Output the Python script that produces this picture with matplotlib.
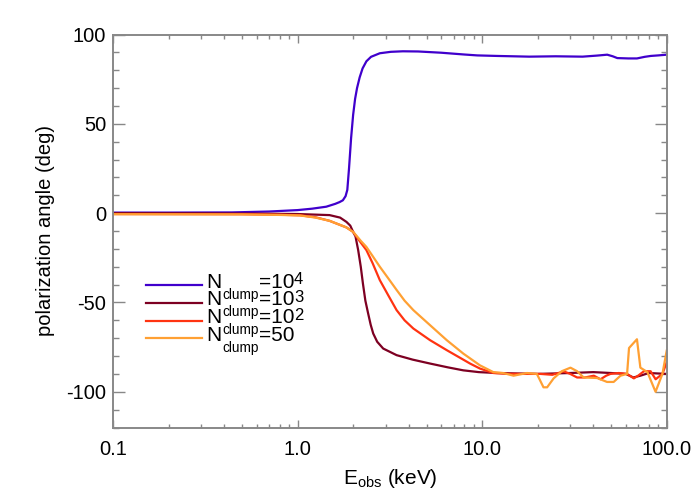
import matplotlib
matplotlib.use("Agg")
import matplotlib.pyplot as plt
from matplotlib.ticker import FixedLocator, LogLocator, NullFormatter, MultipleLocator
from matplotlib.font_manager import FontProperties

plt.rcParams['font.family'] = ['Liberation Sans', 'DejaVu Sans']
plt.rcParams['mathtext.fontset'] = 'custom'
plt.rcParams['mathtext.rm'] = 'Liberation Sans'
plt.rcParams['mathtext.it'] = 'Liberation Sans'
plt.rcParams['axes.unicode_minus'] = False

# ---- data ----
E_n4 = [0.1, 0.2, 0.44, 0.7, 1.0, 1.2, 1.43, 1.6, 1.69, 1.76, 1.82, 1.86, 1.9, 1.95,
        2.0, 2.05, 2.1, 2.17, 2.25, 2.36, 2.5, 2.79, 3.2, 3.72, 4.5, 6, 8, 9.4, 12, 18,
        25, 35, 42, 47.6, 51, 54, 62, 69, 76, 82, 90, 100]
A_n4 = [0.3, 0.3, 0.4, 0.9, 1.7, 2.5, 3.6, 5.2, 6.2, 7.2, 9.5, 13, 25, 42,
        55, 64, 70, 76, 81, 85, 87.5, 89.5, 90.3, 90.6, 90.5, 89.8, 88.8, 88.3, 88, 87.6,
        87.8, 87.6, 88.2, 88.7, 87.8, 86.8, 86.6, 86.6, 87.5, 88, 88.3, 88.7]

E_n3 = [0.1, 0.3, 0.6, 1.0, 1.49, 1.7, 1.84, 1.93, 2.0, 2.06, 2.13, 2.2, 2.26, 2.33,
        2.41, 2.49, 2.57, 2.7, 2.91, 3.44, 4.2, 5.22, 6.5, 7.9, 9.6, 12, 20, 30, 40, 50,
        60, 66, 72, 80, 100]
A_n3 = [0.0, -0.1, -0.3, -0.5, -1.1, -2.5, -4.9, -7, -10.5, -13, -20.7, -30, -39.4, -49,
        -56, -62.5, -67.4, -72, -75.8, -79.5, -82, -84.2, -86.3, -88, -89, -89.5, -90, -89.5, -89, -89.5,
        -90, -92, -91, -89.5, -90]

E_n2 = [0.1, 0.5, 0.8, 1.03, 1.25, 1.49, 1.84, 2.0, 2.08, 2.2, 2.36, 2.55, 2.79, 3.1,
        3.44, 3.8, 4.24, 5.22, 6.43, 7.9, 8.6, 9.73, 11.5, 14, 17, 20.7, 24, 27.7, 30, 32.7,
        36, 40.3, 43.8, 47, 49.6, 55, 61, 66.4, 70, 75.3, 81.8, 87.1, 94.8, 100]
A_n2 = [-0.5, -0.6, -0.9, -1.2, -2.3, -4.3, -8, -10.5, -13, -16.5, -20.7, -28, -37.5, -46,
        -54.3, -60, -64.6, -71.1, -76.7, -82, -84.2, -87, -89.5, -90, -90, -90, -90.5, -88.6, -90, -92,
        -92, -91, -93, -91, -90, -89.5, -90, -92.5, -91, -88.5, -88.5, -93, -90, -83.5]

E_n50 = [0.1, 0.5, 0.8, 1.03, 1.25, 1.49, 1.84, 2.0, 2.08, 2.2, 2.36, 2.55, 2.79, 3.1,
         3.44, 3.8, 4.24, 5.22, 6.43, 7.9, 9.73, 11.5, 13, 14.8, 17.5, 19.8, 21.5, 22.5, 24.4, 27,
         30.1, 32.7, 35.5, 42, 47.5, 51.6, 56.2, 61, 62.5, 69, 72, 78.6, 87, 94.8, 100]
A_n50 = [-0.6, -0.7, -1, -1.3, -2.5, -4.3, -8, -10.5, -12.5, -15.5, -18.9, -24, -30, -36.5,
         -43, -49, -54.3, -62.7, -71.1, -78.6, -85.2, -89, -89.5, -91, -89.5, -90, -97.5, -97.5, -92.5, -88.5,
         -86.5, -88.5, -92, -92.3, -94.5, -94.5, -91, -90, -75.5, -70.6, -86.5, -89, -100, -90, -77]

colors = ['#4000cc', '#7d0022', '#ff3311', '#ffa033']
label_values = ['10', '10', '10', '50']
label_exps = ['4', '3', '2', '']
xticks = [0.1, 1.0, 10.0, 100.0]
xticklabels = ['0.1', '1.0', '10.0', '100.0']
yticks = [-100, -50, 0, 50, 100]

series = list(zip([E_n4, E_n3, E_n2, E_n50], [A_n4, A_n3, A_n2, A_n50], colors))

fig = plt.figure(figsize=(7, 5), dpi=100)
ax = fig.add_axes([113/700, 1-427.5/500, (666.7-113)/700, (427.5-34.5)/500])

for E, A, c in series:
    ax.plot(E, A, color=c, lw=1.6, solid_joinstyle='round')

ax.set_xscale('log')
ax.set_xlim(0.1, 100)
ax.set_ylim(-120, 100)
ax.xaxis.set_major_locator(FixedLocator(xticks))
ax.set_xticklabels(xticklabels)
ax.xaxis.set_minor_locator(LogLocator(base=10, subs=range(2, 10)))
ax.xaxis.set_minor_formatter(NullFormatter())
ax.yaxis.set_major_locator(FixedLocator(yticks))
ax.yaxis.set_minor_locator(MultipleLocator(10))

gray = '#888888'
for s in ax.spines.values():
    s.set_color(gray)
    s.set_linewidth(1.4)
ax.tick_params(axis='both', which='both', direction='in', top=True, right=True,
               color=gray, width=1.0, labelsize=14.5, labelcolor='black')
ax.tick_params(axis='x', which='major', length=6, pad=9)
ax.tick_params(axis='x', which='minor', length=3.2)
ax.tick_params(axis='y', which='major', length=8.6, pad=5)
ax.tick_params(axis='y', which='minor', length=4.3)

ax.set_ylabel('polarization angle (deg)', fontsize=14.5, labelpad=8)
ax.set_xlabel(r'E$_{\mathregular{obs}}$ (keV)', fontsize=15, labelpad=6)

# ---- legend drawn in axes coordinates (IDL-style, columns of text) ----
axw = 666.7 - 113
axh = 427.5 - 34.5
line_y_px = [285, 302.7, 320.7, 338.3]
pitch = 17.77
renderer = fig.canvas.get_renderer()


def linesp(size):
    fp = FontProperties(family=['Liberation Sans'], size=size)
    _, h, d = renderer.get_text_width_height_descent('lp', fp, ismath=False)
    return (pitch - d) / (h - d)


def fx(px):
    return (px - 113) / axw


def fy(py):
    return (427.5 - py) / axh


for c, ypx in zip(colors, line_y_px):
    ax.plot([fx(146), fx(201.5)], [fy(ypx), fy(ypx)], color=c, lw=1.6,
            transform=ax.transAxes, clip_on=False)

# va='baseline' anchors the LAST line's baseline
base_last = line_y_px[3] + 2.7
ax.text(fx(206.5), fy(base_last), '\n'.join(['N'] * 4), fontsize=15, va='baseline',
        ha='left', transform=ax.transAxes, linespacing=linesp(15))
ax.text(fx(222.3), fy(base_last + 11), '\n'.join(['clump'] * 4), fontsize=9.8,
        va='baseline', ha='left', transform=ax.transAxes, linespacing=linesp(9.8))
ax.text(fx(258.5), fy(base_last), '\n'.join('=' + v for v in label_values), fontsize=15,
        va='baseline', ha='left', transform=ax.transAxes, linespacing=linesp(15))
exps = [e for e in label_exps if e]
ax.text(fx(294.0), fy(line_y_px[len(exps) - 1] + 2.7 - 3.5), '\n'.join(exps), fontsize=12,
        va='baseline', ha='left', transform=ax.transAxes, linespacing=linesp(12))

fig.savefig('out.png', dpi=100)
